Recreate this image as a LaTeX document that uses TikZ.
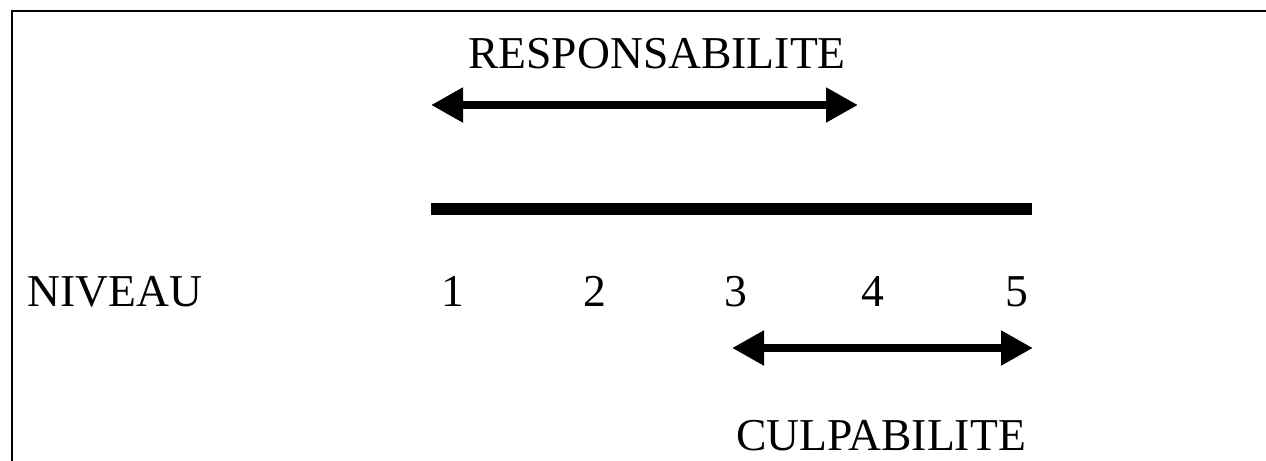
\documentclass[tikz,border=0pt]{standalone}
\usepackage{fontspec}
\setmainfont{Liberation Serif}
\usetikzlibrary{arrows.meta}
\tikzset{
  lbl/.style={inner sep=0pt, anchor=base, font=\fontsize{22.8pt}{26pt}\selectfont},
  dbl/.style={line width=4pt, {Triangle[length=16pt,width=16.5pt]}-{Triangle[length=16pt,width=16.5pt]}},
  levelline/.style={line width=6pt},
  frame/.style={line width=1pt}
}
\begin{document}
\begin{tikzpicture}[x=0.5pt,y=-0.5pt]
\useasboundingbox (0,0) rectangle (1266,461);
% frame (open at right and bottom)
\coordinate (fbl) at (12,470);
\coordinate (ftl) at (12,11);
\coordinate (ftr) at (1275,11);
\draw[frame] (fbl) -- (ftl) -- (ftr);
% labels
\node[lbl] (resp) at (657,68) {RESPONSABILITE};
\node[lbl] (culp) at (881,450) {CULPABILITE};
\node[lbl, anchor=base west] (niv) at (27,306) {NIVEAU};
\node[lbl] (n1) at (453,306) {1};
\node[lbl] (n2) at (595,306) {2};
\node[lbl] (n3) at (736,306) {3};
\node[lbl] (n4) at (873,306) {4};
\node[lbl] (n5) at (1017,306) {5};
% arrows and scale line
\coordinate (ra) at (431,105);
\coordinate (rb) at (858,105);
\draw[dbl] (ra) -- (rb);
\coordinate (sa) at (431,209);
\coordinate (sb) at (1032,209);
\draw[levelline] (sa) -- (sb);
\coordinate (ca) at (732,348);
\coordinate (cb) at (1033,348);
\draw[dbl] (ca) -- (cb);
\end{tikzpicture}
\end{document}
